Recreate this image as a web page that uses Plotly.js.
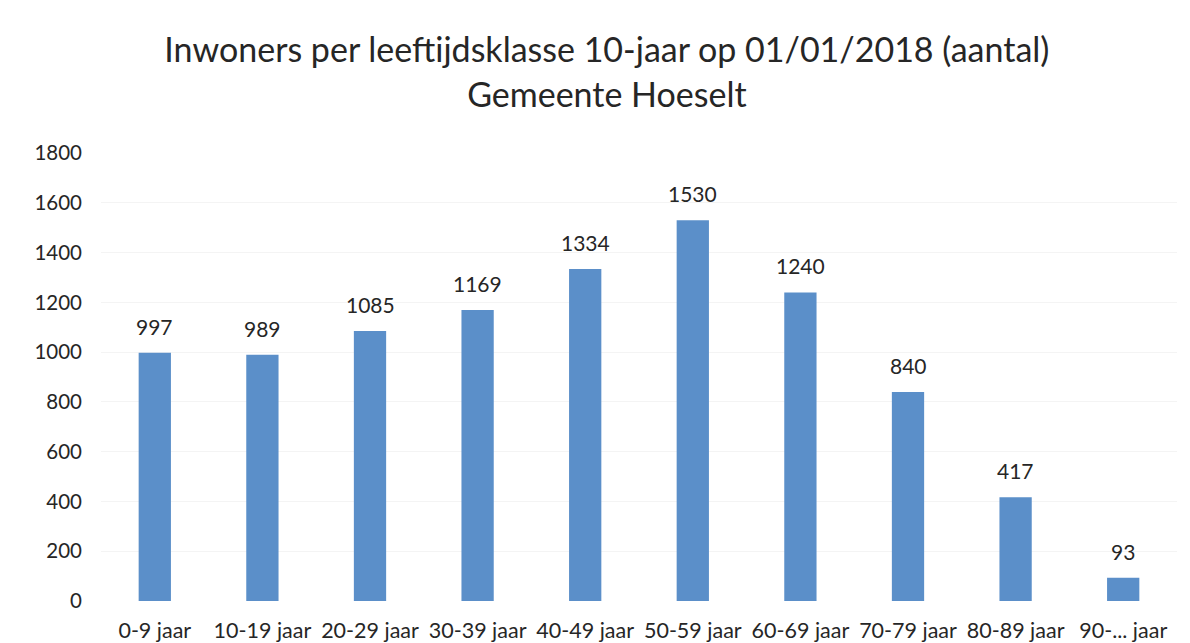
<!DOCTYPE html>
<html>
<head>
<meta charset="utf-8">
<script src="https://cdn.plot.ly/plotly-3.0.1.min.js"></script>
<style>html,body{margin:0;padding:0;background:#fff;}#chart{width:1190px;height:643px;}</style>
</head>
<body>
<div id="chart"></div>
<script>
const categories = ["0-9 jaar","10-19 jaar","20-29 jaar","30-39 jaar","40-49 jaar","50-59 jaar","60-69 jaar","70-79 jaar","80-89 jaar","90-... jaar"];
const values = [997, 989, 1085, 1169, 1334, 1530, 1240, 840, 417, 93];
const yTicks = [0, 200, 400, 600, 800, 1000, 1200, 1400, 1600, 1800];
const titleText = "Inwoners per leeftijdsklasse 10-jaar op 01/01/2018 (aantal)<br>Gemeente Hoeselt";

const fontFam = "Lato, 'Open Sans', sans-serif";
const txtColor = "#262626";
const trace = {
  type: "bar",
  x: categories,
  y: values,
  marker: {color: "#5b8fc9"},
  hoverinfo: "x+y"
};
const annotations = categories.map((c, i) => ({
  x: c, y: values[i], xref: "x", yref: "y",
  text: String(values[i]), showarrow: false,
  xanchor: "center", yanchor: "bottom", yshift: 12,
  font: {family: fontFam, size: 21, color: txtColor}
}));
const layout = {
  width: 1190, height: 643,
  paper_bgcolor: "#fff", plot_bgcolor: "#fff",
  margin: {l: 101, r: 13, t: 153, b: 42},
  bargap: 0.7,
  title: {text: titleText, x: 0.51, xanchor: "center", yref: "container", y: 0.903, yanchor: "middle",
          font: {family: fontFam, size: 34, color: txtColor, lineposition: "none"}},
  xaxis: {showgrid: false, zeroline: false, showline: false, ticks: "",
          tickfont: {family: fontFam, size: 21.5, color: txtColor}, ticklabelstandoff: 14},
  yaxis: {range: [0, 1800], tickvals: yTicks, showgrid: true, gridcolor: "#f4f4f4", zeroline: false, showline: false,
          ticks: "", tickfont: {family: fontFam, size: 20.5, color: txtColor}, ticklabelstandoff: 18},
  annotations: annotations,
  showlegend: false
};
Plotly.newPlot("chart", [trace], layout, {displayModeBar: false});
</script>
</body>
</html>
